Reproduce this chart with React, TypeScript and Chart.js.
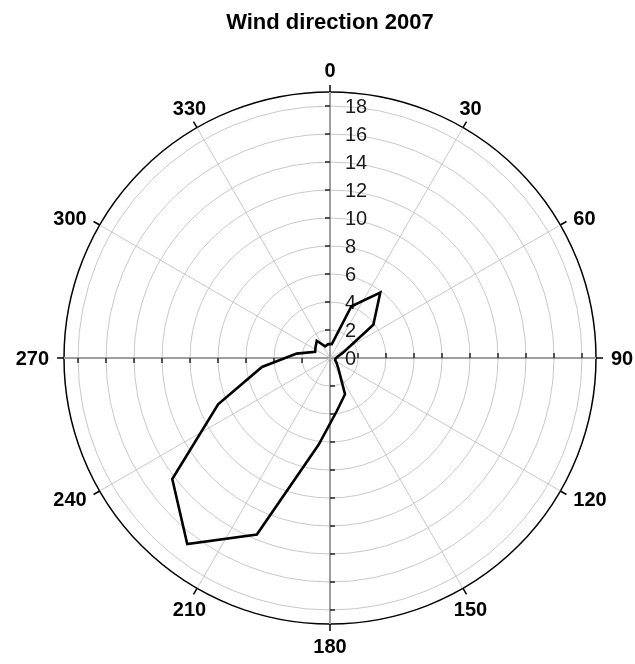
import { useEffect, useRef } from 'react';
import { Chart, registerables } from 'chart.js';

Chart.register(...registerables);

if (typeof document !== 'undefined') {
  document.body.style.margin = '0';
}

const TITLE = 'Wind direction 2007';
// wind direction bins (degrees, centre of each 15° sector)
const DIRECTIONS = [
  7.5, 22.5, 37.5, 52.5, 67.5, 82.5, 97.5, 112.5, 127.5, 142.5, 157.5, 172.5,
  187.5, 202.5, 217.5, 232.5, 247.5, 262.5, 277.5, 292.5, 307.5, 322.5, 337.5, 352.5,
];
// frequency (%) per sector
const FREQUENCY = [
  1.0, 4.0, 5.9, 3.9, 1.0, 0.5, 0.4, 0.4, 0.6, 1.0, 2.8, 3.8,
  6.25, 13.65, 16.75, 14.2, 8.65, 4.9, 2.4, 1.15, 1.3, 1.55, 0.9, 1.0,
];
const ANGLE_TICKS = [0, 30, 60, 90, 120, 150, 180, 210, 240, 270, 300, 330];
const MAIN_AXES = [0, 90, 180, 270];
const RADIAL_TICKS = [0, 2, 4, 6, 8, 10, 12, 14, 16, 18];
const RADIAL_MAX = 19;
const SLOT_STEP = 7.5;

const FONT = "'Liberation Sans', Arial, Helvetica, sans-serif";

const SLOTS: number[] = Array.from({ length: 360 / SLOT_STEP }, (_, i) => i * SLOT_STEP);

const polarDecor = {
  id: 'polarDecor',
  beforeDatasetsDraw(chart: any) {
    const r = chart.scales.r;
    const ctx = chart.ctx as CanvasRenderingContext2D;
    const R = r.drawingArea;
    const slotOf = (deg: number) => SLOTS.indexOf(deg);
    ctx.save();
    ctx.lineCap = 'butt';

    // outer ticks on the frame
    ctx.strokeStyle = '#000';
    ctx.lineWidth = 1.5;
    ANGLE_TICKS.forEach((deg) => {
      const i = slotOf(deg);
      const a = r.getPointPosition(i, R);
      const b = r.getPointPosition(i, R + 7);
      ctx.beginPath();
      ctx.moveTo(a.x, a.y);
      ctx.lineTo(b.x, b.y);
      ctx.stroke();
    });

    // tick marks along the main axes
    ctx.strokeStyle = '#222';
    ctx.lineWidth = 1.5;
    MAIN_AXES.forEach((deg) => {
      const i = slotOf(deg);
      const ang = r.getIndexAngle(i) - Math.PI / 2;
      const ux = Math.cos(ang);
      const uy = Math.sin(ang);
      const px = uy;
      const py = -ux;
      RADIAL_TICKS.forEach((v) => {
        if (v === 0) return;
        const d = r.getDistanceFromCenterForValue(v);
        const p = r.getPointPosition(i, d);
        ctx.beginPath();
        ctx.moveTo(p.x, p.y);
        ctx.lineTo(p.x + px * 5, p.y + py * 5);
        ctx.stroke();
      });
    });

    // angle labels
    const aSize = 20;
    const cap = aSize * 0.716;
    ctx.font = `bold ${aSize}px ${FONT}`;
    ctx.fillStyle = '#000';
    ctx.textBaseline = 'alphabetic';
    ANGLE_TICKS.forEach((deg) => {
      const i = slotOf(deg);
      const p = r.getPointPosition(i, R + 15);
      let x = p.x;
      let y = p.y;
      if (deg <= 30 || deg >= 330) {
        ctx.textAlign = 'center';
      } else if (deg >= 150 && deg <= 210) {
        ctx.textAlign = 'center';
        y = p.y + cap;
      } else if (deg < 180) {
        ctx.textAlign = 'left';
        y = p.y + cap / 2;
      } else {
        ctx.textAlign = 'right';
        y = p.y + cap / 2;
      }
      ctx.fillText(String(deg), x, y);
    });

    // radial tick labels
    const tSize = 20;
    ctx.font = `${tSize}px ${FONT}`;
    ctx.fillStyle = '#1a1a1a';
    ctx.textAlign = 'left';
    RADIAL_TICKS.forEach((v) => {
      const d = r.getDistanceFromCenterForValue(v);
      const p = r.getPointPosition(0, d);
      ctx.fillText(String(v), p.x + 15, p.y + (tSize * 0.716) / 2);
    });

    ctx.restore();
  },
};

export default function App() {
  const canvasRef = useRef<HTMLCanvasElement | null>(null);

  useEffect(() => {
    if (!canvasRef.current) return;
    const values = SLOTS.map((deg) => {
      const k = DIRECTIONS.indexOf(deg);
      return k >= 0 ? FREQUENCY[k] : null;
    });
    const chart = new Chart(canvasRef.current, {
      type: 'radar',
      data: {
        labels: SLOTS.map((d) => String(d)),
        datasets: [
          {
            label: TITLE,
            data: values as any,
            borderColor: '#000',
            borderWidth: 2.6,
            borderJoinStyle: 'miter',
            backgroundColor: 'transparent',
            fill: false,
            pointRadius: 0,
            pointHoverRadius: 0,
            spanGaps: true,
          },
        ],
      },
      options: {
        animation: false,
        responsive: true,
        maintainAspectRatio: false,
        layout: { padding: { left: 64, right: 39, top: 0, bottom: 40 } },
        plugins: {
          legend: { display: false },
          tooltip: { enabled: false },
          title: {
            display: true,
            text: TITLE,
            fullSize: false,
            color: '#000',
            font: { family: FONT, size: 22, weight: 'bold' },
            padding: { top: 10, bottom: 55.6 },
          },
        },
        scales: {
          r: {
            min: 0,
            max: RADIAL_MAX,
            startAngle: 0,
            afterBuildTicks: (scale: any) => {
              scale.ticks = [...RADIAL_TICKS, RADIAL_MAX].map((v) => ({ value: v }));
            },
            ticks: { display: false },
            pointLabels: { display: false },
            grid: {
              circular: true,
              color: (c: any) => (c.tick && c.tick.value === RADIAL_MAX ? '#000' : '#c8c8c8'),
              lineWidth: (c: any) => (c.tick && c.tick.value === RADIAL_MAX ? 1.5 : 1),
            },
            angleLines: {
              color: (c: any) => (SLOTS[c.index] % 90 === 0 ? '#9e9e9e' : '#c8c8c8'),
              lineWidth: (c: any) =>
                SLOTS[c.index] % 30 === 0 ? (SLOTS[c.index] % 90 === 0 ? 2 : 1) : 0,
            },
          },
        },
      },
      plugins: [polarDecor],
    });
    return () => chart.destroy();
  }, []);

  return (
    <div style={{ width: 635, height: 664, position: 'relative' }}>
      <canvas ref={canvasRef} />
    </div>
  );
}
